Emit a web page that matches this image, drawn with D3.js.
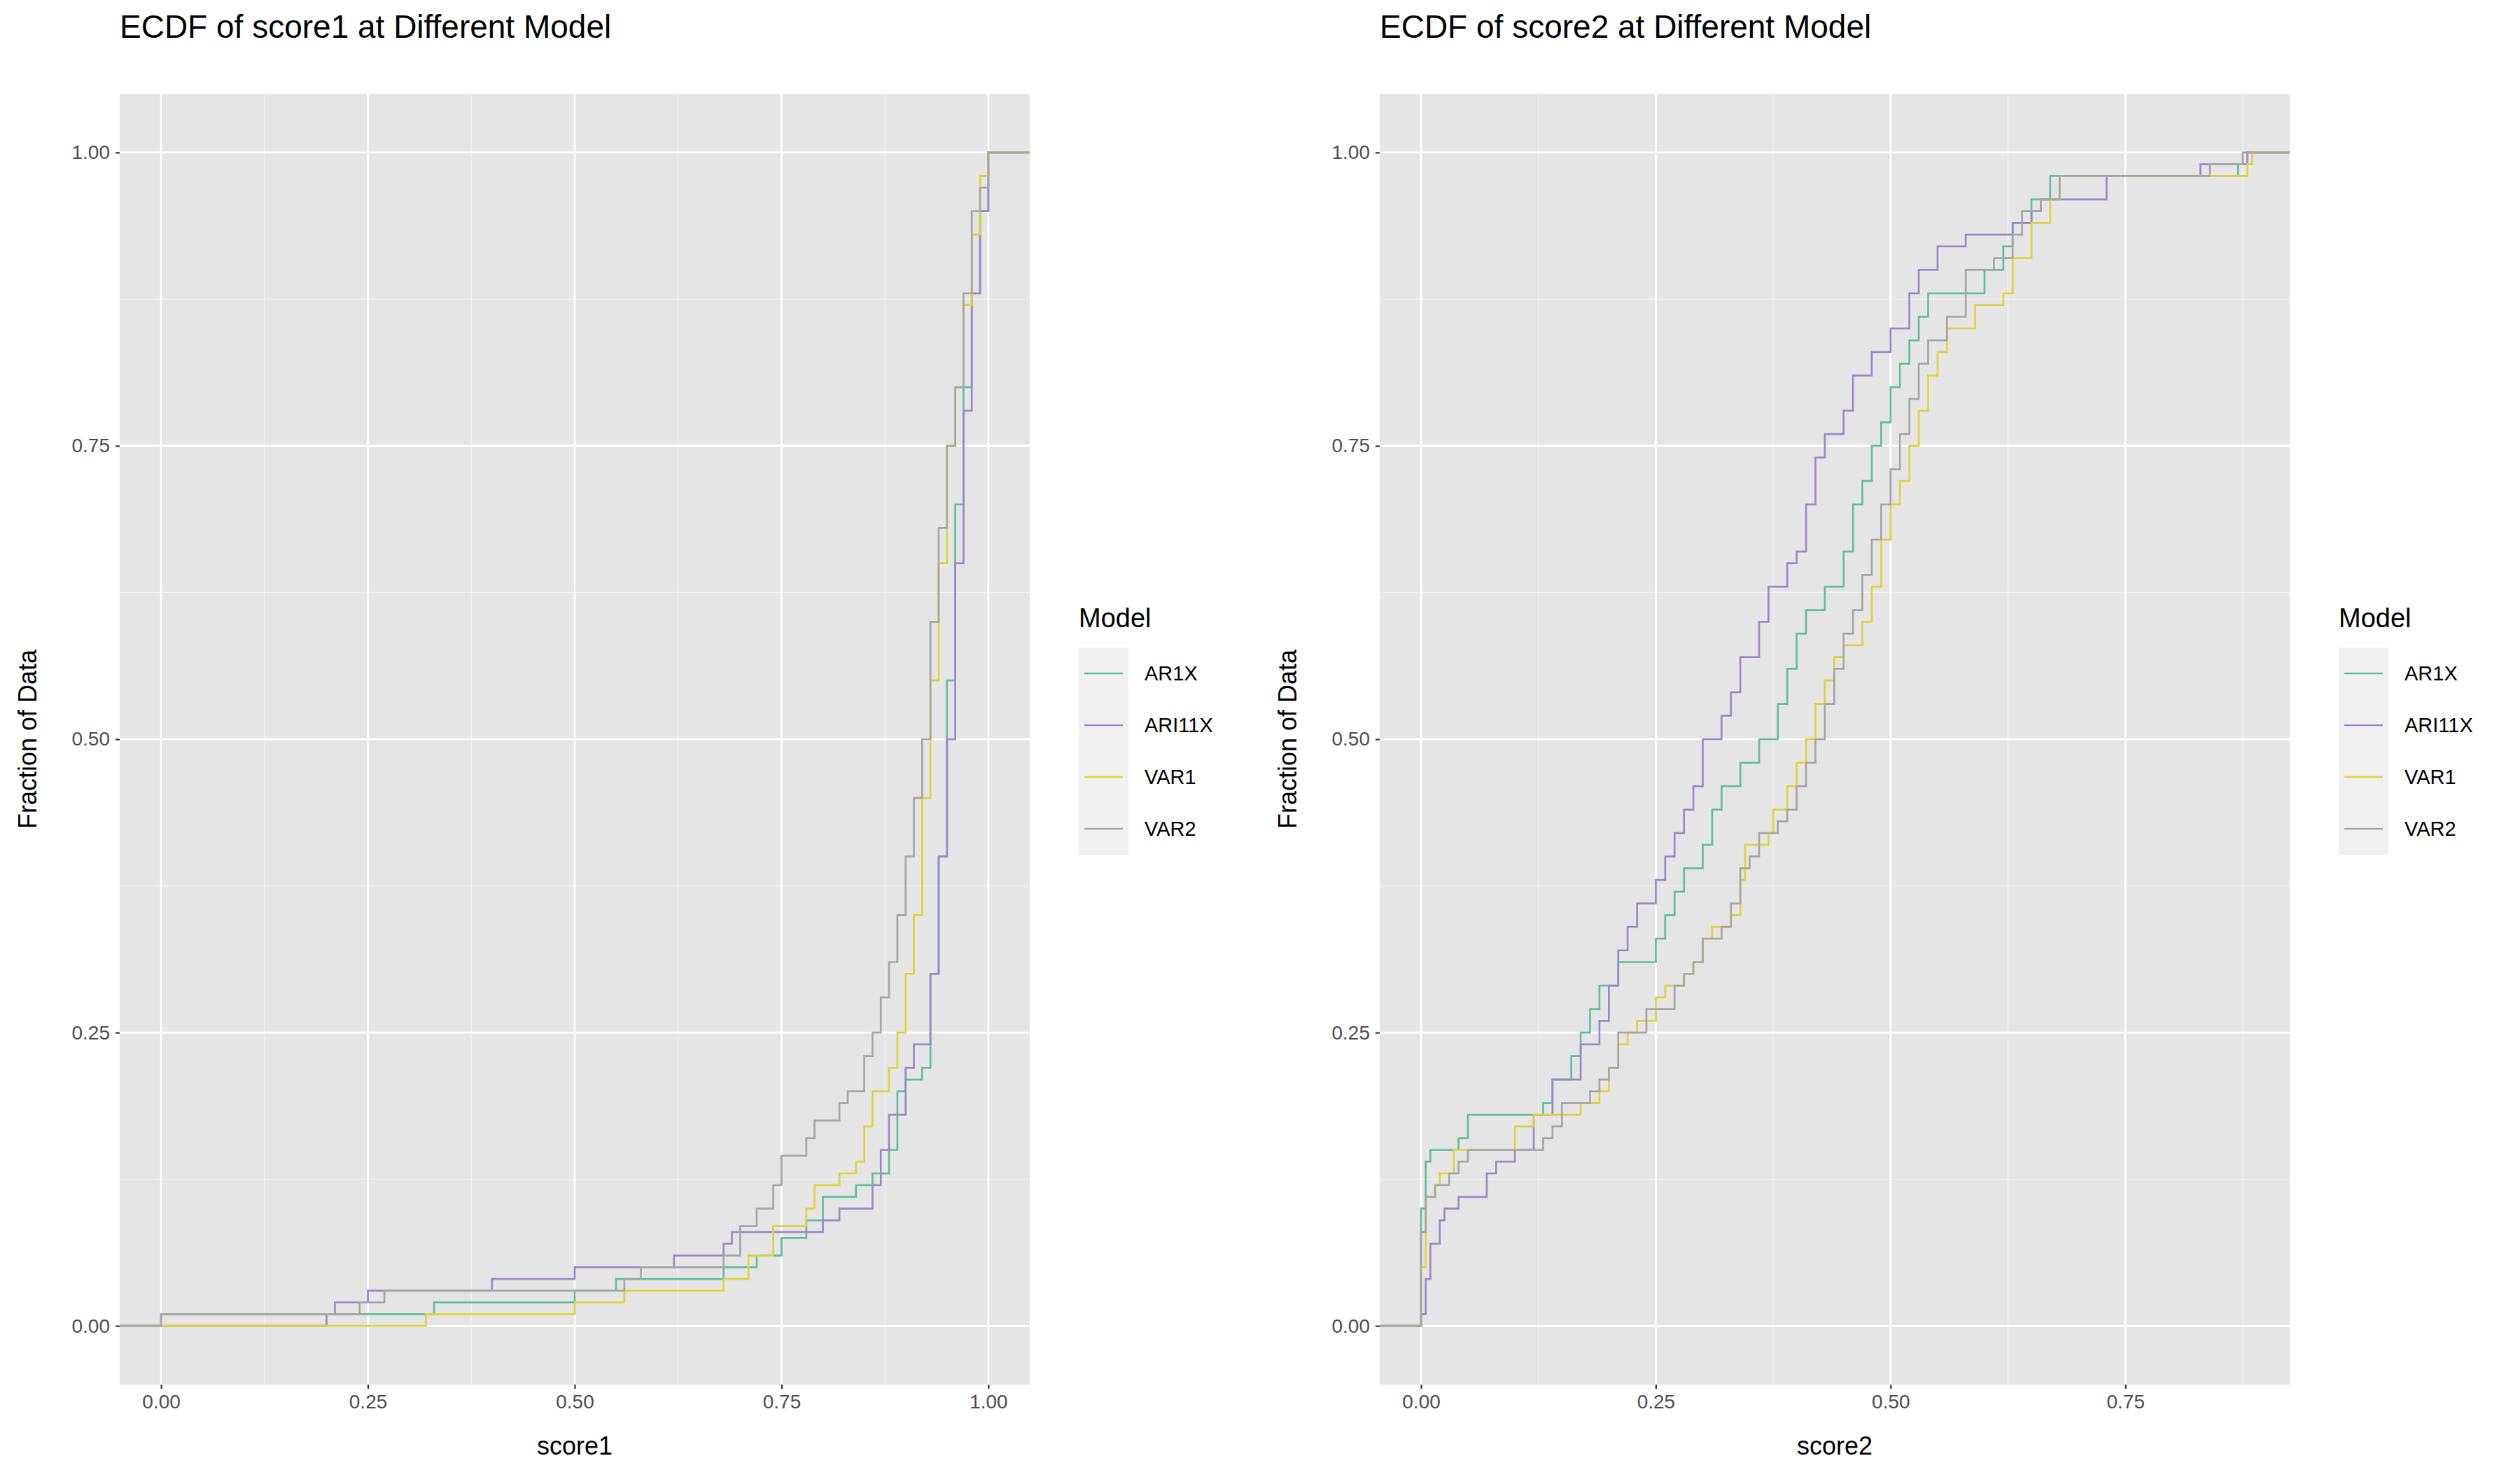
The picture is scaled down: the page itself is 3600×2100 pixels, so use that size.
<!DOCTYPE html>
<html><head><meta charset="utf-8">
<script src="https://cdn.jsdelivr.net/npm/d3@7"></script>
<style>body{margin:0;background:#fff;font-family:"Liberation Sans",Arial,sans-serif}</style>
</head><body><div id="chart"></div>
<script>
// ECDF step knots [x, fraction]
const models = ["AR1X", "ARI11X", "VAR1", "VAR2"];
const colors = ["#5fbf9f", "#9b88c9", "#dcd43c", "#a6a6a6"];

const s1_AR1X = [[0,0.01],[0.33,0.02],[0.5,0.03],[0.55,0.04],[0.68,0.05],[0.72,0.06],[0.75,0.075],[0.78,0.09],[0.8,0.11],[0.84,0.12],[0.86,0.13],[0.88,0.15],[0.89,0.2],[0.9,0.21],[0.92,0.22],[0.93,0.3],[0.94,0.4],[0.95,0.55],[0.96,0.7],[0.97,0.8],[0.98,0.88],[0.99,0.95],[1,1]];
const s1_ARI11X = [[0.2,0.01],[0.21,0.02],[0.25,0.03],[0.4,0.04],[0.5,0.05],[0.62,0.06],[0.68,0.07],[0.69,0.08],[0.8,0.09],[0.82,0.1],[0.86,0.12],[0.87,0.15],[0.88,0.18],[0.9,0.22],[0.91,0.24],[0.93,0.3],[0.94,0.4],[0.95,0.5],[0.96,0.65],[0.97,0.78],[0.98,0.88],[0.99,0.95],[1,1]];
const s1_VAR1 = [[0.32,0.01],[0.5,0.02],[0.56,0.03],[0.68,0.04],[0.71,0.06],[0.74,0.085],[0.78,0.1],[0.79,0.12],[0.82,0.13],[0.84,0.14],[0.85,0.17],[0.86,0.2],[0.88,0.22],[0.89,0.25],[0.9,0.3],[0.91,0.35],[0.92,0.45],[0.93,0.55],[0.94,0.65],[0.95,0.75],[0.96,0.8],[0.97,0.87],[0.98,0.93],[0.99,0.98],[1,1]];
const s1_VAR2 = [[0,0.01],[0.24,0.02],[0.27,0.03],[0.56,0.04],[0.58,0.05],[0.68,0.06],[0.7,0.085],[0.72,0.1],[0.74,0.12],[0.75,0.145],[0.78,0.16],[0.79,0.175],[0.82,0.19],[0.83,0.2],[0.85,0.23],[0.86,0.25],[0.87,0.28],[0.88,0.31],[0.89,0.35],[0.9,0.4],[0.91,0.45],[0.92,0.5],[0.93,0.6],[0.94,0.68],[0.95,0.75],[0.96,0.8],[0.97,0.88],[0.98,0.95],[0.99,0.97],[1,1]];

const s2_AR1X = [[0,0.1],[0.005,0.14],[0.01,0.15],[0.04,0.16],[0.05,0.18],[0.13,0.19],[0.14,0.21],[0.16,0.23],[0.17,0.25],[0.18,0.27],[0.19,0.29],[0.21,0.31],[0.25,0.33],[0.26,0.35],[0.27,0.37],[0.28,0.39],[0.3,0.41],[0.31,0.44],[0.32,0.46],[0.34,0.48],[0.36,0.5],[0.38,0.53],[0.39,0.56],[0.4,0.59],[0.41,0.61],[0.43,0.63],[0.45,0.66],[0.46,0.7],[0.47,0.72],[0.48,0.75],[0.49,0.77],[0.5,0.8],[0.51,0.82],[0.52,0.84],[0.53,0.86],[0.54,0.88],[0.6,0.9],[0.62,0.92],[0.63,0.94],[0.65,0.96],[0.67,0.98],[0.87,0.99],[0.88,1]];
const s2_ARI11X = [[0,0.01],[0.005,0.04],[0.01,0.07],[0.02,0.09],[0.025,0.1],[0.04,0.11],[0.07,0.13],[0.08,0.14],[0.1,0.15],[0.12,0.18],[0.14,0.21],[0.17,0.24],[0.19,0.26],[0.2,0.29],[0.21,0.32],[0.22,0.34],[0.23,0.36],[0.25,0.38],[0.26,0.4],[0.27,0.42],[0.28,0.44],[0.29,0.46],[0.3,0.5],[0.32,0.52],[0.33,0.54],[0.34,0.57],[0.36,0.6],[0.37,0.63],[0.39,0.65],[0.4,0.66],[0.41,0.7],[0.42,0.74],[0.43,0.76],[0.45,0.78],[0.46,0.81],[0.48,0.83],[0.5,0.85],[0.52,0.88],[0.53,0.9],[0.55,0.92],[0.58,0.93],[0.63,0.94],[0.65,0.95],[0.66,0.96],[0.73,0.98],[0.83,0.99],[0.88,1]];
const s2_VAR1 = [[0,0.05],[0.005,0.11],[0.015,0.12],[0.02,0.13],[0.035,0.15],[0.1,0.17],[0.12,0.18],[0.17,0.19],[0.19,0.2],[0.2,0.22],[0.21,0.24],[0.22,0.25],[0.23,0.26],[0.25,0.28],[0.26,0.29],[0.28,0.3],[0.29,0.31],[0.3,0.33],[0.31,0.34],[0.33,0.35],[0.34,0.38],[0.345,0.41],[0.37,0.42],[0.375,0.44],[0.39,0.46],[0.4,0.48],[0.41,0.5],[0.42,0.53],[0.43,0.55],[0.44,0.57],[0.45,0.58],[0.47,0.6],[0.48,0.63],[0.49,0.67],[0.5,0.7],[0.51,0.72],[0.52,0.75],[0.53,0.78],[0.54,0.81],[0.55,0.83],[0.56,0.85],[0.59,0.87],[0.62,0.88],[0.63,0.91],[0.65,0.94],[0.67,0.96],[0.68,0.98],[0.88,0.99],[0.885,1]];
const s2_VAR2 = [[0,0.08],[0.005,0.11],[0.015,0.12],[0.03,0.13],[0.04,0.14],[0.05,0.15],[0.13,0.16],[0.14,0.17],[0.15,0.19],[0.18,0.2],[0.19,0.21],[0.2,0.22],[0.21,0.25],[0.24,0.27],[0.27,0.29],[0.28,0.3],[0.29,0.31],[0.3,0.33],[0.32,0.34],[0.33,0.36],[0.34,0.39],[0.35,0.4],[0.36,0.42],[0.38,0.43],[0.39,0.44],[0.4,0.46],[0.41,0.48],[0.42,0.5],[0.43,0.53],[0.44,0.56],[0.45,0.59],[0.46,0.61],[0.47,0.64],[0.48,0.67],[0.49,0.7],[0.5,0.73],[0.51,0.76],[0.52,0.79],[0.53,0.82],[0.54,0.84],[0.56,0.86],[0.58,0.9],[0.61,0.91],[0.63,0.93],[0.64,0.95],[0.66,0.96],[0.68,0.98],[0.84,0.99],[0.875,1]];

const yTicks = [0, 0.25, 0.5, 0.75, 1];
const panels = [
  { title: "ECDF of score1  at Different Model", xlab: "score1", domain: [-0.05, 1.05],
    xTicks: [0, 0.25, 0.5, 0.75, 1], series: [s1_AR1X, s1_ARI11X, s1_VAR1, s1_VAR2], left: 0 },
  { title: "ECDF of score2  at Different Model", xlab: "score2", domain: [-0.044, 0.925],
    xTicks: [0, 0.25, 0.5, 0.75], series: [s2_AR1X, s2_ARI11X, s2_VAR1, s2_VAR2], left: 1800 }
];

const W = 3600, H = 2100;
const svg = d3.select("#chart").append("svg").attr("width", W).attr("height", H);
const fmt = d3.format(".2f");

panels.forEach(p => {
  const g = svg.append("g").attr("transform", `translate(${p.left},0)`);
  const x = d3.scaleLinear().domain(p.domain).range([171, 1471]);
  const y = d3.scaleLinear().domain([-0.05, 1.05]).range([1978, 134]);

  g.append("rect").attr("x", 171).attr("y", 134).attr("width", 1300).attr("height", 1844).attr("fill", "#e5e5e5");

  const minorX = p.xTicks.slice(0, -1).map(t => t + 0.125).filter(t => t < p.domain[1]);
  if (p.domain[1] > p.xTicks[p.xTicks.length - 1] + 0.125) minorX.push(p.xTicks[p.xTicks.length - 1] + 0.125);
  const minorY = yTicks.slice(0, -1).map(t => t + 0.125);
  g.selectAll(".mx").data(minorX).enter().append("line")
    .attr("x1", d => x(d)).attr("x2", d => x(d)).attr("y1", 134).attr("y2", 1978)
    .attr("stroke", "#f2f2f2").attr("stroke-width", 1.3);
  g.selectAll(".my").data(minorY).enter().append("line")
    .attr("x1", 171).attr("x2", 1471).attr("y1", d => y(d)).attr("y2", d => y(d))
    .attr("stroke", "#f2f2f2").attr("stroke-width", 1.3);
  g.selectAll(".gx").data(p.xTicks).enter().append("line")
    .attr("x1", d => x(d)).attr("x2", d => x(d)).attr("y1", 134).attr("y2", 1978)
    .attr("stroke", "#fff").attr("stroke-width", 2.6);
  g.selectAll(".gy").data(yTicks).enter().append("line")
    .attr("x1", 171).attr("x2", 1471).attr("y1", d => y(d)).attr("y2", d => y(d))
    .attr("stroke", "#fff").attr("stroke-width", 2.6);

  const line = d3.line().x(d => x(d[0])).y(d => y(d[1])).curve(d3.curveStepAfter);
  p.series.forEach((s, i) => {
    const pts = [[p.domain[0], 0], [s[0][0], 0]].concat(s, [[p.domain[1], 1]]);
    g.append("path").attr("d", line(pts)).attr("fill", "none")
      .attr("stroke", colors[i]).attr("stroke-width", 2.7);
  });

  const xa = g.append("g").attr("transform", "translate(0,1978)")
    .call(d3.axisBottom(x).tickValues(p.xTicks).tickFormat(fmt).tickSize(6).tickPadding(8));
  const ya = g.append("g").attr("transform", "translate(171,0)")
    .call(d3.axisLeft(y).tickValues(yTicks).tickFormat(fmt).tickSize(6).tickPadding(8));
  [xa, ya].forEach(a => {
    a.select(".domain").remove();
    a.selectAll("line").attr("stroke", "#333").attr("stroke-width", 2.2);
    a.selectAll("text").attr("fill", "#4d4d4d").style("font-size", "28px").style("font-family", "Liberation Sans, Arial");
  });

  g.append("text").attr("x", 171).attr("y", 54).text(p.title)
    .style("font-size", "46px").attr("fill", "#000");
  g.append("text").attr("x", 821).attr("y", 2078).attr("text-anchor", "middle").text(p.xlab)
    .style("font-size", "36px");
  g.append("text").attr("transform", "translate(52,1056) rotate(-90)").attr("text-anchor", "middle")
    .text("Fraction of Data").style("font-size", "36px");

  // legend
  const lg = g.append("g").attr("transform", "translate(1541,0)");
  lg.append("text").attr("x", 0).attr("y", 896).text("Model").style("font-size", "38px");
  models.forEach((m, i) => {
    const yy = 925 + i * 74;
    lg.append("rect").attr("x", 0).attr("y", yy).attr("width", 71).attr("height", 74).attr("fill", "#f0f0f0");
    lg.append("line").attr("x1", 8).attr("x2", 63).attr("y1", yy + 37).attr("y2", yy + 37)
      .attr("stroke", colors[i]).attr("stroke-width", 2.7);
    lg.append("text").attr("x", 94).attr("y", yy + 47).text(m).style("font-size", "29px");
  });
});
</script></body></html>
